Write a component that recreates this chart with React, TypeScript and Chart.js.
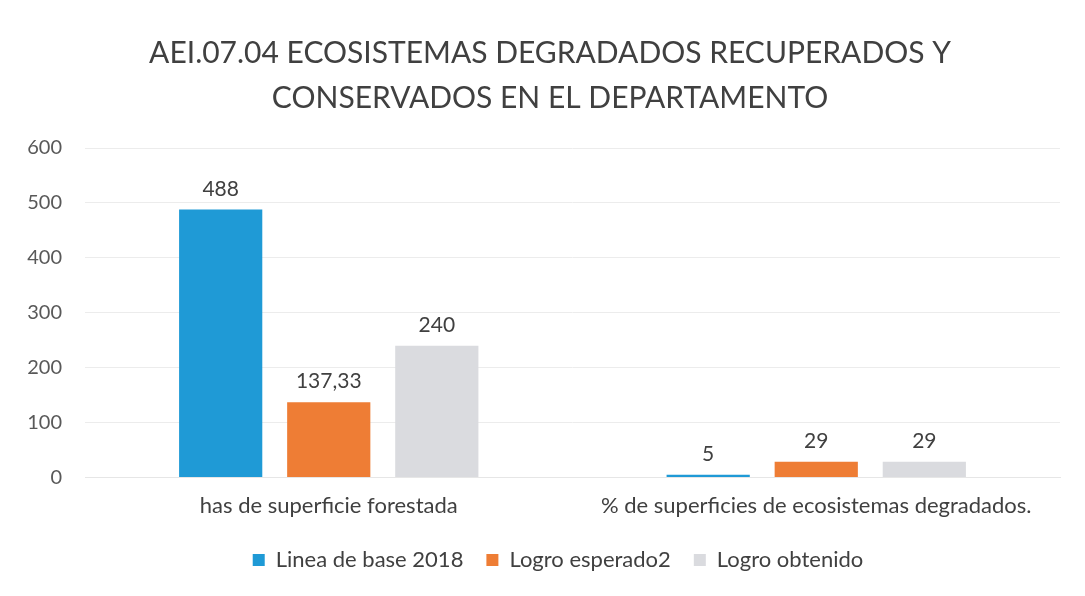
import React, { useEffect, useRef } from "react";
import { Chart, registerables } from "chart.js";

Chart.register(...registerables);

const categories = ["has de superficie forestada", "% de superficies de ecosistemas degradados."];
const seriesNames = ["Linea de base 2018", "Logro esperado2", "Logro obtenido"];
const lineaBase = [488, 5];
const logroEsperado = [137.33, 29];
const logroObtenido = [240, 29];
const colors = ["#1f9ad6", "#ee7d35", "#dadbdf"];
const titleLines = ["AEI.07.04 ECOSISTEMAS DEGRADADOS RECUPERADOS Y", "CONSERVADOS EN EL DEPARTAMENTO"];

const FONT = "Lato, 'Open Sans', sans-serif";

const fmt = (v: number) => v.toLocaleString("es-ES", { maximumFractionDigits: 2, useGrouping: false }).replace(".", ",");

const labelPlugin = {
  id: "valueLabels",
  afterLayout(chart: any) {
    const shift = 16;
    if (chart.titleBlock) {
      chart.titleBlock.left += shift;
      chart.titleBlock.right += shift;
    }
    if (chart.legend) {
      chart.legend.left += shift + 8;
      chart.legend.right += shift + 8;
    }
  },
  afterDatasetsDraw(chart: any) {
    const ctx = chart.ctx;
    ctx.save();
    ctx.font = `21px ${FONT}`;
    ctx.fillStyle = "#404040";
    ctx.textAlign = "center";
    ctx.textBaseline = "bottom";
    chart.data.datasets.forEach((ds: any, i: number) => {
      const meta = chart.getDatasetMeta(i);
      meta.data.forEach((bar: any, j: number) => {
        ctx.fillText(fmt(ds.data[j]), bar.x, bar.y - 10);
      });
    });
    ctx.restore();
  },
};

export default function App() {
  const ref = useRef<HTMLCanvasElement>(null);
  useEffect(() => {
    if (!ref.current) return;
    const data = [lineaBase, logroEsperado, logroObtenido];
    const chart = new Chart(ref.current, {
      type: "bar",
      data: {
        labels: categories,
        datasets: seriesNames.map((n, i) => ({
          label: n,
          data: data[i],
          backgroundColor: colors[i],
          categoryPercentage: 0.665,
          barPercentage: 0.77,
        })),
      },
      options: {
        animation: false,
        responsive: true,
        maintainAspectRatio: false,
        layout: { padding: { left: 0, right: 17, top: 13, bottom: 7 } },
        plugins: {
          title: {
            display: true,
            text: titleLines,
            color: "#404040",
            font: { family: FONT, size: 30, weight: "normal" as any, lineHeight: 1.5 },
            padding: { top: 10, bottom: 27 },
          },
          legend: {
            position: "bottom",
            labels: {
              color: "#404040",
              font: { family: FONT, size: 22 },
              boxWidth: 12,
              boxHeight: 12,
              padding: 23,
            },
          },
          tooltip: { enabled: false },
        },
        scales: {
          x: {
            grid: { display: false },
            border: { display: true, color: "#e6e6e6" },
            ticks: { color: "#404040", font: { family: FONT, size: 22 }, padding: 7 },
          },
          y: {
            min: 0,
            max: 600,
            afterFit: (scale: any) => {
              scale.width = 77;
            },
            ticks: { stepSize: 100, color: "#595959", font: { family: FONT, size: 20 }, padding: 23 },
            grid: { color: "#ececec", drawTicks: false },
            border: { display: false },
          },
        },
      },
      plugins: [labelPlugin],
    });
    return () => chart.destroy();
  }, []);
  return (
    <div style={{ width: 1069, height: 580, position: "relative" }}>
      <canvas ref={ref} />
    </div>
  );
}
